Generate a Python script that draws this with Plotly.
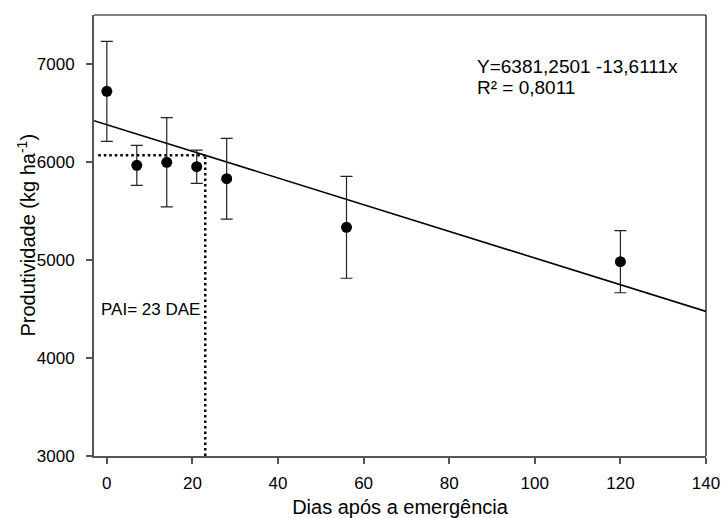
import plotly.graph_objects as go

# Grain yield (kg/ha) versus days after emergence, mean ± error
dias = [0, 7, 14, 21, 28, 56, 120]
produtividade = [6721, 5966, 5997, 5952, 5830, 5334, 4983]
erro = [510, 204, 455, 170, 412, 520, 317]

# Fitted linear model Y = a + b x
intercepto = 6381.2501
inclinacao = -13.6111
r2 = 0.8011
pai = 23  # period before interference (days)

x_range = [-3, 140]
y_range = [3000, 7500]
x_ticks = [0, 20, 40, 60, 80, 100, 120, 140]
y_ticks = [3000, 4000, 5000, 6000, 7000]

FONT = "Arial, Liberation Sans, sans-serif"

fig = go.Figure()

# regression line across the whole x range
x_fit = [x_range[0], x_range[1]]
y_fit = [intercepto + inclinacao * v for v in x_fit]
fig.add_trace(go.Scatter(x=x_fit, y=y_fit, mode="lines",
                         line=dict(color="black", width=1.6),
                         hoverinfo="skip", showlegend=False))

# dotted guides marking the PAI on the fitted line
y_pai = intercepto + inclinacao * pai
fig.add_trace(go.Scatter(x=[-2, pai], y=[y_pai, y_pai], mode="lines",
                         line=dict(color="black", width=2.4, dash="2.5px,3px"),
                         hoverinfo="skip", showlegend=False))
fig.add_trace(go.Scatter(x=[pai, pai], y=[y_range[0], y_pai], mode="lines",
                         line=dict(color="black", width=2.4, dash="2.5px,3px"),
                         hoverinfo="skip", showlegend=False))

# observed means with error bars
fig.add_trace(go.Scatter(x=dias, y=produtividade, mode="markers",
                         marker=dict(color="black", size=11),
                         error_y=dict(type="data", array=erro, visible=True,
                                      color="#222222", thickness=1.2, width=6),
                         showlegend=False))

fig.add_annotation(x=86, y=6975, xref="x", yref="y", xanchor="left", yanchor="middle",
                   text=f"Y={intercepto:.4f} {inclinacao:.4f}x".replace(".", ","),
                   showarrow=False, font=dict(family=FONT, size=19, color="black"))
fig.add_annotation(x=86, y=6760, xref="x", yref="y", xanchor="left", yanchor="middle",
                   text=f"R² = {r2:.4f}".replace(".", ","),
                   showarrow=False, font=dict(family=FONT, size=19, color="black"))
fig.add_annotation(x=-1.9, y=4490, xref="x", yref="y", xanchor="left", yanchor="middle",
                   text=f"PAI= {pai} DAE",
                   showarrow=False, font=dict(family=FONT, size=17, color="black"))

# y-axis title placed explicitly beside the tick labels
fig.add_annotation(x=0, y=0.5, xref="paper", yref="paper", xshift=-68,
                   xanchor="center", yanchor="middle", textangle=-90,
                   text="Produtividade (kg ha<sup>-1</sup>)",
                   showarrow=False, font=dict(family=FONT, size=20, color="black"))

# top and right frame lines
fig.add_shape(type="line", xref="paper", yref="paper", x0=0, x1=1, y0=1, y1=1,
              line=dict(color="black", width=1.2))
fig.add_shape(type="line", xref="paper", yref="paper", x0=1, x1=1, y0=0, y1=1,
              line=dict(color="black", width=1.2))

fig.update_layout(
    width=721, height=518,
    margin=dict(l=94, r=15, t=15, b=62, autoexpand=False),
    paper_bgcolor="white", plot_bgcolor="white",
    font=dict(family=FONT, color="black"),
    xaxis=dict(range=x_range, tickvals=x_ticks, showgrid=False, zeroline=False,
               automargin=False,
               showline=True, linecolor="#555555", linewidth=2,
               ticks="outside", ticklen=6, tickcolor="#555555", tickwidth=1.5,
               tickfont=dict(size=17), ticklabelstandoff=5,
               title=dict(text="Dias após a emergência", font=dict(size=20))),
    yaxis=dict(range=y_range, tickvals=y_ticks, showgrid=False, zeroline=False,
               automargin=False,
               showline=True, linecolor="#555555", linewidth=2,
               ticks="outside", ticklen=6, tickcolor="#555555", tickwidth=1.5,
               tickfont=dict(size=17), ticklabelstandoff=8),
)

fig.write_html("out.html")
